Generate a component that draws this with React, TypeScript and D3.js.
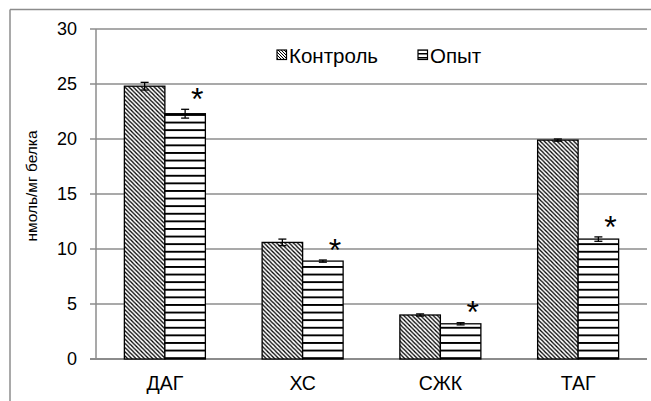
import React from "react";
import * as d3 from "d3";

const categories = ["ДАГ", "ХС", "СЖК", "ТАГ"];
const seriesNames = ["Контроль", "Опыт"];
const control = [24.8, 10.6, 4.0, 19.9];
const controlErr = [0.35, 0.3, 0.1, 0.1];
const experiment = [22.3, 8.9, 3.2, 10.9];
const experimentErr = [0.4, 0.1, 0.1, 0.2];
const significant = [true, true, true, true];
const yTicks = [0, 5, 10, 15, 20, 25, 30];

const W = 651;
const H = 401;
const plot = { left: 96, right: 647, top: 29, bottom: 359 };
const FONT = "'Liberation Sans', Arial, sans-serif";
const GRID = "#8c8c8c";

export default function App() {
  const x = d3
    .scaleBand<string>()
    .domain(categories)
    .range([plot.left, plot.right])
    .paddingInner(0.412)
    .paddingOuter(0.206);
  const xs = d3.scaleBand<string>().domain(seriesNames).range([0, x.bandwidth()]);
  const y = d3.scaleLinear().domain([0, 30]).range([plot.bottom, plot.top]);

  const series = [
    { name: seriesNames[0], values: control, errs: controlErr, fill: "url(#diag)" },
    { name: seriesNames[1], values: experiment, errs: experimentErr, fill: "url(#horiz)" },
  ];

  return (
    <div style={{ position: "fixed", left: 0, top: 0 }}>
      <svg width={W} height={H} style={{ display: "block", background: "#fff" }}>
        <defs>
          <pattern id="diag" patternUnits="userSpaceOnUse" width={4.2} height={4.2}>
            <rect width={4.2} height={4.2} fill="#fff" />
            <path d="M-1,-1 L5.2,5.2 M-1,3.2 L1,5.2 M3.2,-1 L5.2,1" stroke="#000" strokeWidth={1.3} />
          </pattern>
          <pattern id="horiz" patternUnits="userSpaceOnUse" width={8} height={7.6}>
            <rect width={8} height={7.6} fill="#fff" />
            <rect y={0} width={8} height={1.9} fill="#000" />
          </pattern>
          <pattern id="diagLeg" patternUnits="userSpaceOnUse" width={3} height={3}>
            <rect width={3} height={3} fill="#fff" />
            <path d="M-1,-1 L4,4 M-1,2 L1,4 M2,-1 L4,1" stroke="#000" strokeWidth={1} />
          </pattern>
          <pattern id="horizLeg" patternUnits="userSpaceOnUse" width={4} height={4}>
            <rect width={4} height={4} fill="#fff" />
            <rect y={1} width={4} height={1.5} fill="#000" />
          </pattern>
        </defs>

        {/* outer frame (top and left) */}
        <line x1={10} x2={W} y1={9.5} y2={9.5} stroke={GRID} strokeWidth={1.5} />
        <line x1={10} x2={10} y1={9.5} y2={H} stroke={GRID} strokeWidth={1.5} />

        {/* gridlines and ticks */}
        {yTicks.map((t) => (
          <g key={t}>
            <line
              x1={plot.left - 6}
              x2={plot.right}
              y1={y(t)}
              y2={y(t)}
              stroke={GRID}
              strokeWidth={t === 0 ? 2 : 1.5}
            />
            <text
              x={77}
              y={y(t)}
              dy="0.35em"
              textAnchor="end"
              fontFamily={FONT}
              fontSize={18}
              fill="#000"
            >
              {t}
            </text>
          </g>
        ))}
        <line x1={plot.left} x2={plot.left} y1={plot.top} y2={plot.bottom} stroke={GRID} strokeWidth={1.5} />

        {/* y title */}
        <text
          transform={`translate(37,${(plot.top + plot.bottom) / 2 - 8}) rotate(-90)`}
          textAnchor="middle"
          fontFamily={FONT}
          fontSize={15.5}
          fill="#000"
        >
          нмоль/мг белка
        </text>

        {/* bars */}
        {series.map((s) =>
          categories.map((c, i) => {
            const bx = (x(c) as number) + (xs(s.name) as number);
            const bw = xs.bandwidth();
            return (
              <rect
                key={s.name + c}
                x={bx}
                y={y(s.values[i])}
                width={bw}
                height={y(0) - y(s.values[i])}
                fill={s.fill}
                stroke="#000"
                strokeWidth={1.3}
              />
            );
          })
        )}

        {/* error bars */}
        {series.map((s) =>
          categories.map((c, i) => {
            const cx = (x(c) as number) + (xs(s.name) as number) + xs.bandwidth() / 2;
            const hi = y(s.values[i] + s.errs[i]);
            const lo = y(s.values[i] - s.errs[i]);
            return (
              <g key={"e" + s.name + c} stroke="#000" strokeWidth={1.3}>
                <line x1={cx} x2={cx} y1={hi} y2={lo} />
                <line x1={cx - 4} x2={cx + 4} y1={hi} y2={hi} />
                <line x1={cx - 4} x2={cx + 4} y1={lo} y2={lo} />
              </g>
            );
          })
        )}

        {/* significance asterisks */}
        {categories.map((c, i) =>
          significant[i] ? (
            <text
              key={"s" + c}
              x={(x(c) as number) + (xs(seriesNames[1]) as number) + xs.bandwidth() / 2 + 12}
              y={y(experiment[i] + experimentErr[i]) - 17 + 0.55 * 32}
              textAnchor="middle"
              fontFamily={FONT}
              fontSize={32}
              fill="#000"
            >
              *
            </text>
          ) : null
        )}

        {/* category labels */}
        {categories.map((c) => (
          <text
            key={"c" + c}
            x={(x(c) as number) + x.bandwidth() / 2}
            y={390}
            textAnchor="middle"
            fontFamily={FONT}
            fontSize={19.5}
            fill="#000"
          >
            {c}
          </text>
        ))}

        {/* legend */}
        {[
          { name: seriesNames[0], px: 277, fill: "url(#diagLeg)" },
          { name: seriesNames[1], px: 418, fill: "url(#horizLeg)" },
        ].map((l) => (
          <g key={"l" + l.name}>
            <rect x={l.px} y={50} width={9.5} height={9.5} fill={l.fill} stroke="#000" strokeWidth={1.2} />
            <text x={l.px + 12} y={63} fontFamily={FONT} fontSize={20.5} fill="#000">
              {l.name}
            </text>
          </g>
        ))}
      </svg>
    </div>
  );
}
